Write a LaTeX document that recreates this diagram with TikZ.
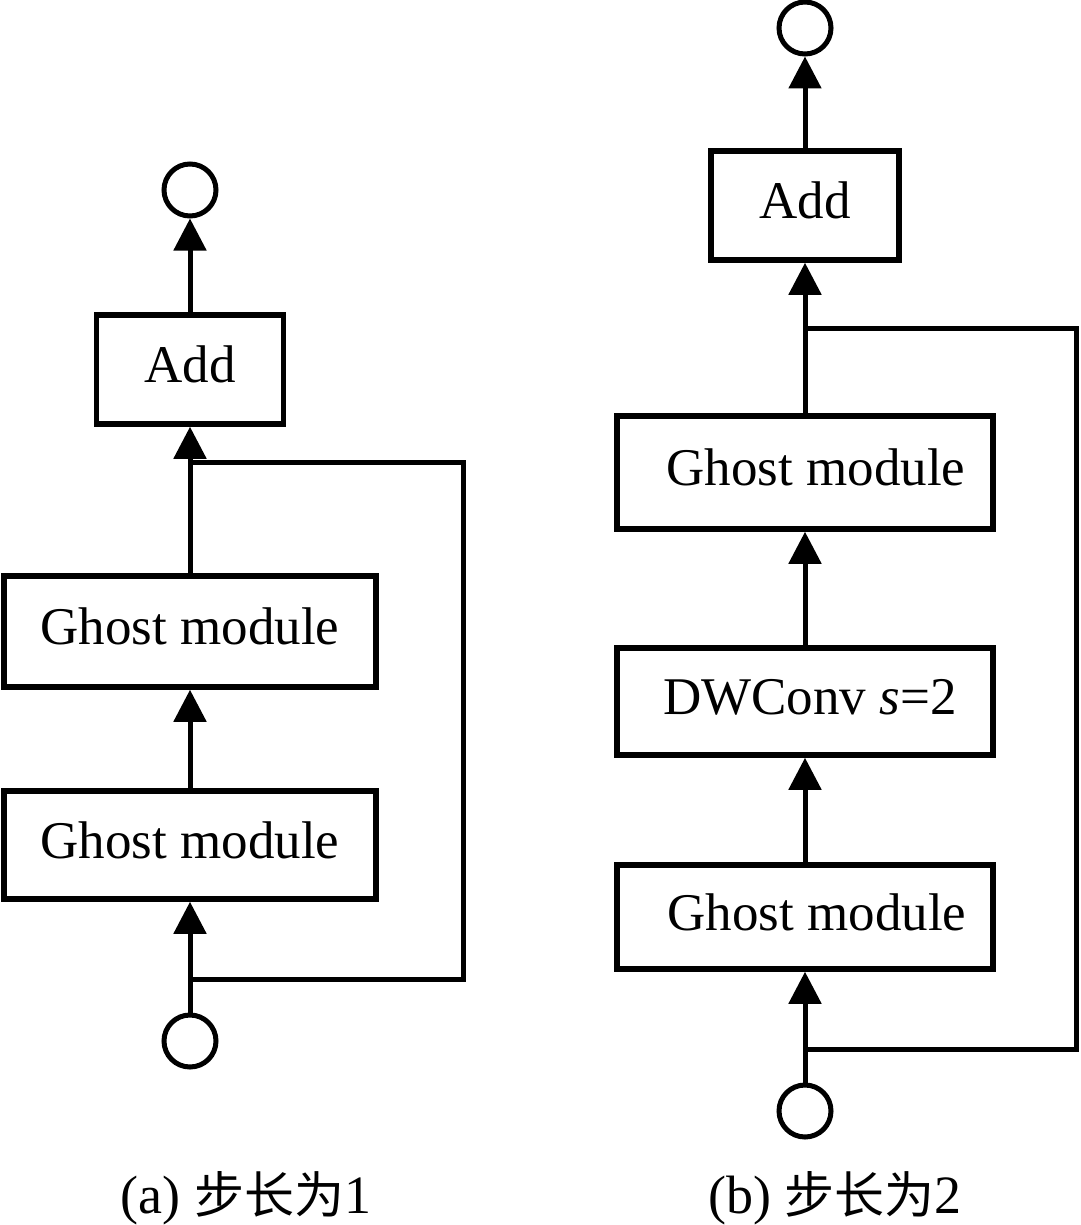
\documentclass[tikz,border=0pt]{standalone}
\usepackage{fontspec}
\setmainfont{Liberation Serif}
\newfontfamily\cjk{Noto Sans CJK SC}
\usetikzlibrary{arrows.meta}
\begin{document}
\begin{tikzpicture}[x=1pt,y=-1pt,
  box/.style={draw,line width=5.5pt,inner sep=0pt,text height=38pt,text depth=12pt,
    font=\fontsize{53}{60}\selectfont},
  circ/.style={circle,draw,line width=5pt,minimum size=52pt,inner sep=0pt},
  arr/.style={line width=5pt,-{Triangle[length=32pt,width=32pt]}},
  skip/.style={line width=5pt,line join=miter},
  captext/.style={anchor=base,inner sep=0pt,font=\fontsize{54}{60}\selectfont}]
\fill[white] (0,0) rectangle (1080,1225);
\useasboundingbox (0,0) rectangle (1080,1225);

% ---------- (a) stride 1 ----------
\node[circ] (outa) at (190,190) {};
\node[box,minimum width=187pt,minimum height=109pt] (adda) at (190,369.5) {Add};
\node[box,minimum width=372pt,minimum height=111pt] (ga1) at (190,631.5) {Ghost module};
\node[box,minimum width=372pt,minimum height=108pt] (ga2) at (190,845) {Ghost module};
\node[circ] (ina) at (190,1041) {};
\coordinate (sa1) at (190,979);
\coordinate (sa2) at (190,462);
\coordinate (ca1) at (463,979);
\coordinate (ca2) at (463,462);

\draw[arr] (ina) -- (ga2);
\draw[arr] (ga2) -- (ga1);
\draw[arr] (ga1) -- (adda);
\draw[arr] (adda) -- (outa);
\draw[skip] (sa1) -- (ca1) -- (ca2) -- (sa2);

\node[captext] (capa) at (246,1213) {(a) {\cjk\fontsize{50}{60}\selectfont 步长为}1};

% ---------- (b) stride 2 ----------
\node[circ] (outb) at (805,28) {};
\node[box,minimum width=188pt,minimum height=109pt] (addb) at (805,205.5) {Add};
\node[box,minimum width=376pt,minimum height=113pt] (gb1) at (805,472.5) {\hspace*{22pt}Ghost module};
\node[box,minimum width=376pt,minimum height=107pt] (dw) at (805,701.5) {\hspace*{10pt}DWConv \textit{s}=2};
\node[box,minimum width=376pt,minimum height=104pt] (gb2) at (805,917) {\hspace*{24pt}Ghost module};
\node[circ] (inb) at (805,1111) {};
\coordinate (sb1) at (805,1049);
\coordinate (sb2) at (805,328);
\coordinate (cb1) at (1076,1049);
\coordinate (cb2) at (1076,328);

\draw[arr] (inb) -- (gb2);
\draw[arr] (gb2) -- (dw);
\draw[arr] (dw) -- (gb1);
\draw[arr] (gb1) -- (addb);
\draw[arr] (addb) -- (outb);
\draw[skip] (sb1) -- (cb1) -- (cb2) -- (sb2);

\node[captext] (capb) at (835,1213) {(b) {\cjk\fontsize{50}{60}\selectfont 步长为}2};
\end{tikzpicture}
\end{document}
